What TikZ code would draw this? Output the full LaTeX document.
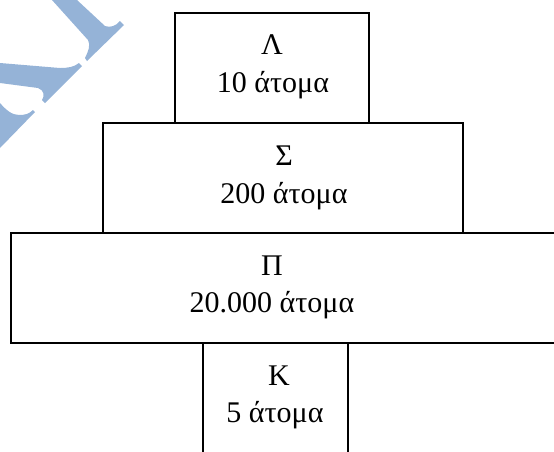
\documentclass[tikz,border=0pt]{standalone}
\usepackage{fontspec}
\setmainfont{Liberation Serif}
\definecolor{wm}{HTML}{95B3D7}
\begin{document}
\begin{tikzpicture}[x=1pt,y=-1pt,
  box/.style={draw=black,line width=1.2pt,inner sep=0pt,outer sep=0pt,minimum height=110pt},
  lbl/.style={inner sep=0pt,anchor=base,font=\fontsize{30}{37}\selectfont},
  wmark/.style={fill=wm,draw=none}]
\useasboundingbox (0,0) rectangle (554,451);
\begin{scope}
\clip (0,0) rectangle (554,451);
% watermark fragments
\fill[wmark] (52,0) -- (88,40) .. controls (91,45) and (88,52) .. (85,58) -- (87,61) -- (124,25) -- (120,21) .. controls (116,26) and (110,28) .. (105,26) -- (77,0) -- cycle;
\fill[wmark] (0,63) -- (60,68) .. controls (68,68) and (74,67) .. (79,63) -- (82,66) -- (45,103) -- (42,100) .. controls (45,96) and (44,90) .. (38,88) -- (0,83) -- cycle;
\fill[wmark] (0,103) .. controls (6,110) and (12,115) .. (19,115) .. controls (25,115) and (29,114) .. (33,110) -- (35,112) -- (0,148) -- cycle;
% boxes
\node[box,minimum width=194pt] (L) at (272,68) {};
\node[box,minimum width=360pt] (S) at (283,178) {};
\node[box,minimum width=589pt] (P) at (305.5,288) {};
\node[box,minimum width=145pt,minimum height=117pt] (K) at (275.5,401.5) {};
\end{scope}
% texts
\node[lbl] (L1) at (272,54) {Λ};
\node[lbl] (L2) at (273,92) {10 άτομα};
\node[lbl] (S1) at (284,165) {Σ};
\node[lbl] (S2) at (284,203) {200 άτομα};
\node[lbl] (P1) at (272,275) {Π};
\node[lbl] (P2) at (272,312) {20.000 άτομα};
\node[lbl] (K1) at (279,385) {Κ};
\node[lbl] (K2) at (275,422) {5 άτομα};
\end{tikzpicture}
\end{document}
